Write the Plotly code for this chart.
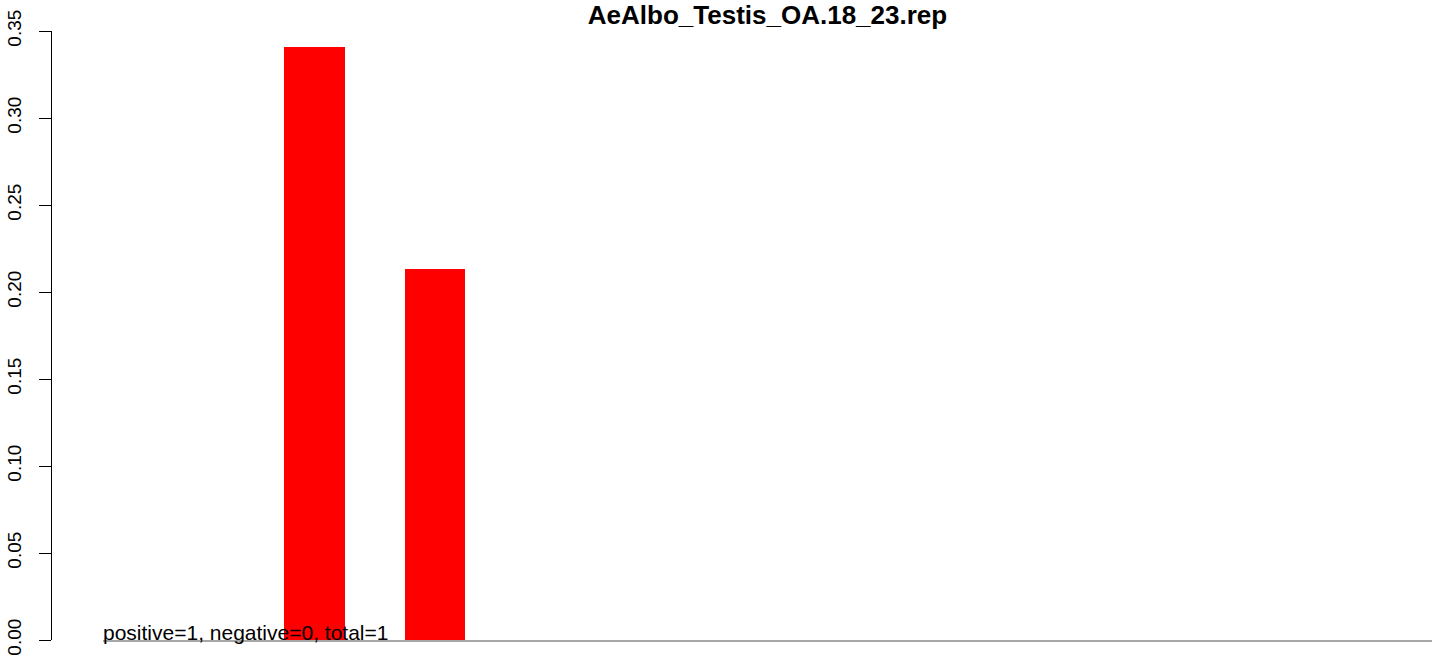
import plotly.graph_objects as go

# Data
title_text = "AeAlbo_Testis_OA.18_23.rep"
bar_positions = [1.5, 3.5, 5.5, 7.5, 9.5, 11.5, 13.5, 15.5, 17.5, 19.5, 21.5]
bar_values = [0, 0.341, 0.2133, 0, 0, 0, 0, 0, 0, 0, 0]
y_ticks = [0.00, 0.05, 0.10, 0.15, 0.20, 0.25, 0.30, 0.35]
y_tick_labels = ["0.00", "0.05", "0.10", "0.15", "0.20", "0.25", "0.30", "0.35"]
note_text = "positive=1, negative=0, total=1"

W, H = 1444, 656
ml, mt = 51, 31
mb = H - 644
plot_w = W - ml
x_dom = [(103 - ml) / plot_w, (1432 - ml) / plot_w]

fig = go.Figure()
fig.add_trace(go.Bar(
    x=bar_positions, y=bar_values, width=1.0,
    marker=dict(color="#FF0000", line=dict(width=0)),
    hoverinfo="skip", showlegend=False,
))

fig.add_annotation(
    x=0, y=0, xref="x", yref="y", text=note_text, showarrow=False,
    xanchor="left", yanchor="bottom", yshift=-6, xshift=-2,
    font=dict(family="Liberation Sans, Arial, sans-serif", size=21, color="#000000"),
)

fig.update_layout(
    width=W, height=H,
    margin=dict(l=ml, r=0, t=mt, b=mb, pad=0),
    paper_bgcolor="white", plot_bgcolor="white",
    bargap=0,
    title=dict(
        text="<b>" + title_text + "</b>",
        x=767.5 / W, xref="container", xanchor="center",
        y=1 - 15.3 / H, yref="container", yanchor="middle",
        font=dict(family="Liberation Sans, Arial, sans-serif", size=26, color="#000000"),
    ),
    xaxis=dict(
        domain=x_dom, range=[0, 22], showgrid=False, zeroline=False,
        showticklabels=False, ticks="", showline=True,
        linecolor="#A6A6A6", linewidth=2,
    ),
    yaxis=dict(
        range=[0, 0.35], anchor="free", position=0,
        showgrid=False, zeroline=False,
        showline=True, linecolor="#000000", linewidth=1,
        ticks="outside", ticklen=12, tickwidth=1, tickcolor="#000000",
        tickvals=y_ticks, ticktext=y_tick_labels, tickangle=-90,
        ticklabelstandoff=10, ticklabeloverflow="allow",
        tickfont=dict(family="Liberation Sans, Arial, sans-serif", size=19, color="#000000"),
    ),
)

fig.write_html(
    "out.html",
    config={"displayModeBar": False},
    post_script="document.body.style.margin='0';document.body.style.overflow='hidden';",
)
